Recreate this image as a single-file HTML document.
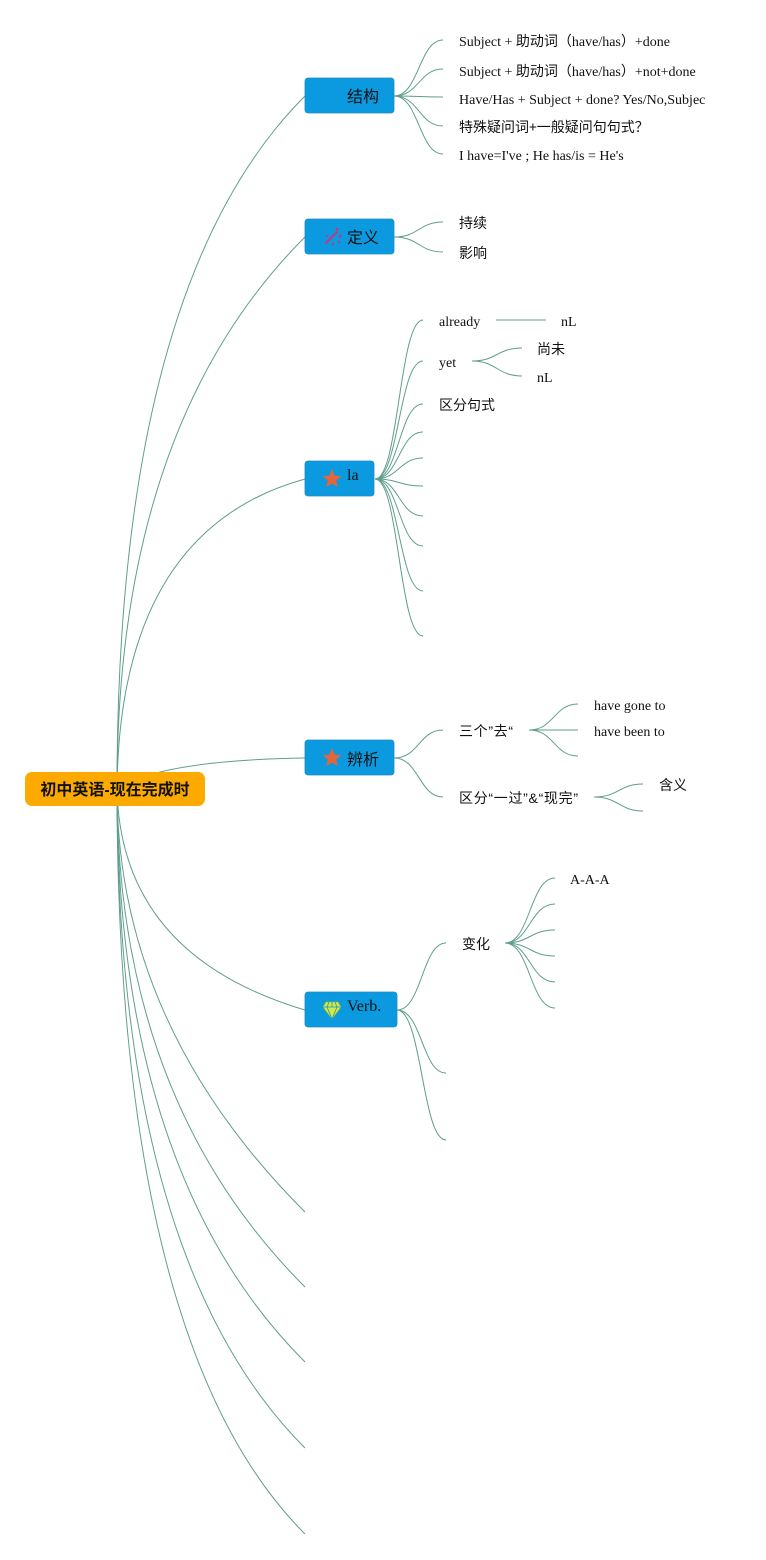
<!DOCTYPE html>
<html><head><meta charset="utf-8">
<style>
html,body{margin:0;padding:0;background:#fff;}
svg{display:block;}
.t{font-family:"Liberation Serif","Noto Sans CJK SC",serif;font-size:14px;fill:#111;}
.c{font-family:"Liberation Sans","Noto Sans CJK SC",sans-serif;font-size:14px;fill:#111;}
.cj{font-family:"Noto Sans CJK SC","Liberation Sans",sans-serif;font-size:14px;fill:#111;}
.n{font-family:"Liberation Sans","Noto Sans CJK SC",sans-serif;font-size:16px;fill:#111;}
.ns{font-family:"Liberation Serif","Noto Sans CJK SC",serif;font-size:16px;fill:#111;}
</style></head>
<body>
<svg width="766" height="1560" viewBox="0 0 766 1560" xmlns="http://www.w3.org/2000/svg">
<g fill="none" stroke="#5f9e8e" stroke-width="1">
<!-- root connectors -->
<path d="M117,788 Q117,284 305,96"/>
<path d="M117,788 Q117,425 305,237"/>
<path d="M117,788 Q120,530 305,479"/>
<path d="M117,788 Q165,760 305,758"/>
<path d="M117,788 Q120,955 305,1010"/>
<path d="M117,788 Q117,1024 305,1212"/>
<path d="M117,788 Q117,1099 305,1287"/>
<path d="M117,788 Q117,1174 305,1362"/>
<path d="M117,788 Q117,1260 305,1448"/>
<path d="M117,788 Q117,1346 305,1534"/>
<!-- 结构 children -->
<path d="M394,96 C419,96 419,40 443,40"/>
<path d="M394,96 C419,96 419,69 443,69"/>
<path d="M394,96 C419,96 419,97 443,97"/>
<path d="M394,96 C419,96 419,126 443,126"/>
<path d="M394,96 C419,96 419,154 443,154"/>
<!-- 定义 children -->
<path d="M394,237 C419,237 419,222 443,222"/>
<path d="M394,237 C419,237 419,252 443,252"/>
<!-- la children -->
<path d="M375,479 C399,479 399,320 423,320"/>
<path d="M375,479 C399,479 399,361 423,361"/>
<path d="M375,479 C399,479 399,404 423,404"/>
<path d="M375,479 C399,479 399,432 423,432"/>
<path d="M375,479 C399,479 399,458 423,458"/>
<path d="M375,479 C399,479 399,486 423,486"/>
<path d="M375,479 C399,479 399,516 423,516"/>
<path d="M375,479 C399,479 399,546 423,546"/>
<path d="M375,479 C399,479 399,591 423,591"/>
<path d="M375,479 C399,479 399,636 423,636"/>
<path d="M496,320 L546,320"/>
<path d="M472,361 C497,361 497,348 522,348"/>
<path d="M472,361 C497,361 497,376 522,376"/>
<!-- 辨析 children -->
<path d="M394,758 C419,758 419,730 443,730"/>
<path d="M394,758 C419,758 419,797 443,797"/>
<path d="M529,730 C554,730 554,704 578,704"/>
<path d="M529,730 L578,730"/>
<path d="M529,730 C554,730 554,756 578,756"/>
<path d="M594,797 C619,797 619,784 643,784"/>
<path d="M594,797 C619,797 619,811 643,811"/>
<!-- Verb children -->
<path d="M397,1010 C422,1010 422,943 446,943"/>
<path d="M397,1010 C422,1010 422,1073 446,1073"/>
<path d="M397,1010 C422,1010 422,1140 446,1140"/>
<path d="M505,943 C530,943 530,878 555,878"/>
<path d="M505,943 C530,943 530,904 555,904"/>
<path d="M505,943 C530,943 530,930 555,930"/>
<path d="M505,943 C530,943 530,956 555,956"/>
<path d="M505,943 C530,943 530,982 555,982"/>
<path d="M505,943 C530,943 530,1008 555,1008"/>
</g>

<!-- root node -->
<rect x="25" y="772" width="180" height="34" rx="7" fill="#fdaa00"/>
<text x="115" y="795" text-anchor="middle" font-family="Liberation Sans,'Noto Sans CJK SC',sans-serif" font-size="16" font-weight="bold" fill="#111">初中英语-现在完成时</text>

<!-- main nodes -->
<rect x="305" y="78" width="89" height="35" rx="3" fill="#0b9ae0" stroke="#1f8ac4" stroke-width="0.8"/>
<text class="n" x="347" y="102">结构</text>

<rect x="305" y="219" width="89" height="35" rx="3" fill="#0b9ae0" stroke="#1f8ac4" stroke-width="0.8"/>
<g stroke="#c8357c" stroke-width="2" stroke-linecap="round">
<line x1="326" y1="243" x2="337" y2="232"/>
</g>
<g fill="#c8357c">
<circle cx="337" cy="229" r="1.4"/><circle cx="340" cy="236" r="1.4"/><circle cx="333" cy="244" r="1.2"/><circle cx="339" cy="242" r="1.1"/><circle cx="327" cy="236" r="1"/>
</g>
<text class="n" x="347" y="243">定义</text>

<rect x="305" y="461" width="69" height="35" rx="3" fill="#0b9ae0" stroke="#1f8ac4" stroke-width="0.8"/>
<polygon points="332,469 334.6,475.6 341.5,476.1 336.2,480.5 337.9,487.3 332,483.5 326.1,487.3 327.8,480.5 322.5,476.1 329.4,475.6" fill="#e2663a"/>
<text class="ns" x="347" y="480">la</text>

<rect x="305" y="740" width="89" height="35" rx="3" fill="#0b9ae0" stroke="#1f8ac4" stroke-width="0.8"/>
<polygon points="332,748 334.6,754.6 341.5,755.1 336.2,759.5 337.9,766.3 332,762.5 326.1,766.3 327.8,759.5 322.5,755.1 329.4,754.6" fill="#e2663a"/>
<text class="n" x="347" y="765">辨析</text>

<rect x="305" y="992" width="92" height="35" rx="3" fill="#0b9ae0" stroke="#1f8ac4" stroke-width="0.8"/>
<g fill="#d8e83c" stroke="#a8b828" stroke-width="0.6">
<polygon points="326,1002 338,1002 341,1007 332,1019 323,1007"/>
</g>
<g stroke="#0b9ae0" stroke-width="0.8" fill="none">
<path d="M323,1007 L341,1007 M329,1002 L327,1007 L332,1019 L337,1007 L335,1002 M332,1002 L332,1007"/>
</g>
<text class="ns" x="347" y="1011">Verb.</text>

<!-- 结构 children text -->
<text class="t" x="459" y="46">Subject + 助动词（have/has）+done</text>
<text class="t" x="459" y="76">Subject + 助动词（have/has）+not+done</text>
<text class="t" x="459" y="104">Have/Has + Subject + done? Yes/No,Subjec</text>
<text class="cj" x="459" y="132">特殊疑问词+一般疑问句句式？</text>
<text class="t" x="459" y="160">I have=I've ; He has/is = He's</text>

<!-- 定义 children -->
<text class="c" x="459" y="228">持续</text>
<text class="c" x="459" y="258">影响</text>

<!-- la children -->
<text class="t" x="439" y="326">already</text>
<text class="t" x="561" y="326">nL</text>
<text class="t" x="439" y="367">yet</text>
<text class="c" x="537" y="354">尚未</text>
<text class="t" x="537" y="382">nL</text>
<text class="c" x="439" y="410">区分句式</text>

<!-- 辨析 children -->
<text class="c" x="459" y="736" textLength="54" lengthAdjust="spacing">三个”去“</text>
<text class="c" x="459" y="803" textLength="119" lengthAdjust="spacing">区分“一过”&amp;“现完”</text>
<text class="t" x="594" y="710">have gone to</text>
<text class="t" x="594" y="736">have been to</text>
<text class="c" x="659" y="790">含义</text>

<!-- Verb children -->
<text class="c" x="462" y="949">变化</text>
<text class="t" x="570" y="884">A-A-A</text>
</svg>
</body></html>
